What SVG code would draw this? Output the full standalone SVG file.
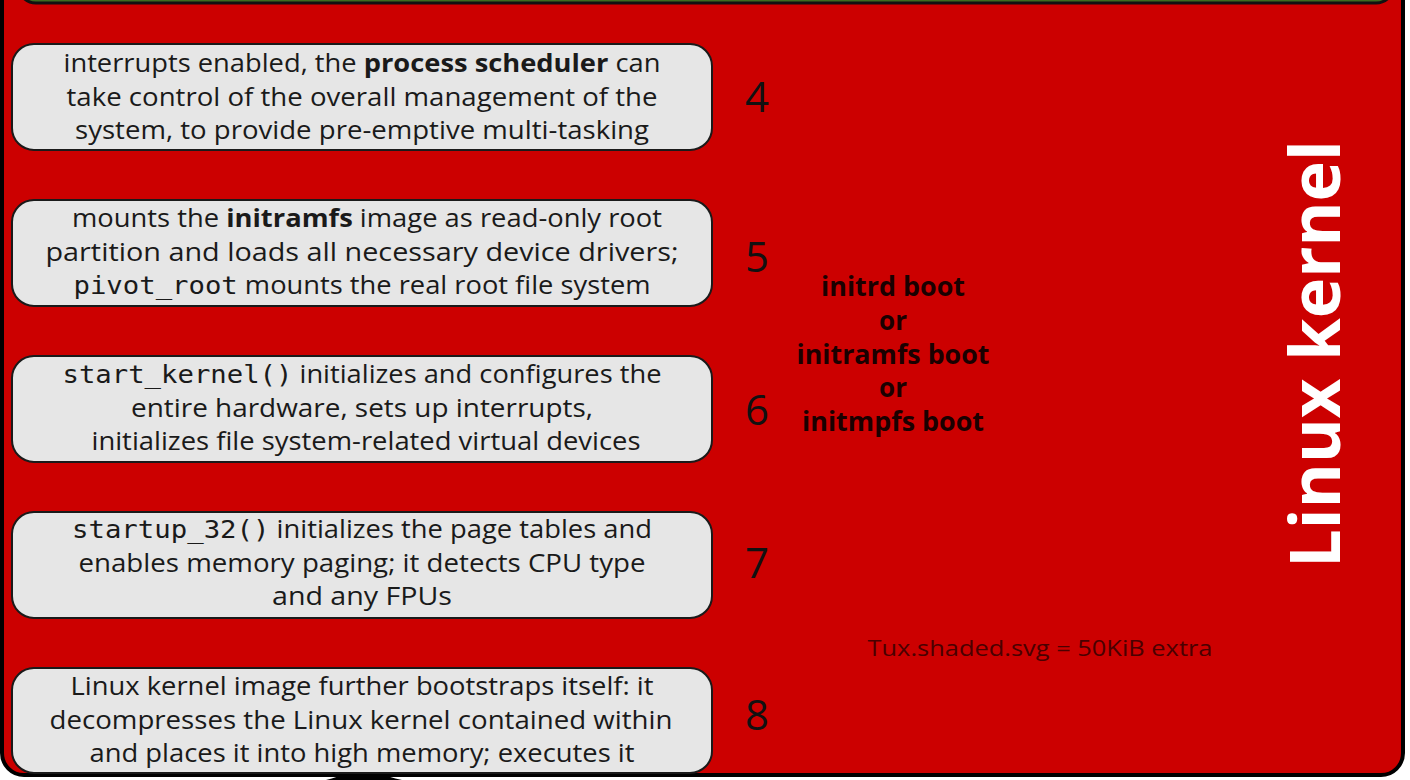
<svg xmlns="http://www.w3.org/2000/svg" width="1410" height="780" viewBox="0 0 1410 780">
<style>
.box{fill:#e6e6e6;stroke:#1a1a1a;stroke-width:2}
.t{font-family:"Open Sans","Noto Sans",sans-serif;font-size:25.5px;fill:#1a1a1a;text-anchor:middle}
.b{font-weight:bold}
.m{font-family:"DejaVu Sans Mono","Liberation Mono",monospace}
.num{font-family:"Open Sans","Noto Sans",sans-serif;font-size:42px;fill:#111;text-anchor:middle}
.boot{font-family:"Open Sans","Noto Sans",sans-serif;font-size:26px;font-weight:bold;fill:#1a0000;text-anchor:middle}
</style>
<rect x="0" y="0" width="1410" height="780" fill="#ffffff"/>
<g id="panel">
<rect x="2" y="-40" width="1401" height="815" rx="22" fill="#cc0000" stroke="#000" stroke-width="4"/>
<rect x="18" y="-100" width="1376" height="103" rx="18" fill="#3d6b1f" stroke="#111" stroke-width="3"/>
</g>
<g id="connectors">
<path d="M326 780 C342 776 353 771 362 768 C371 771 384 776 402 780 Z" fill="#000"/>
</g>
<g id="step4">
<rect class="box" x="12" y="44" width="700" height="106" rx="22"/>
<text class="t" x="362" y="72" textLength="597" lengthAdjust="spacingAndGlyphs">interrupts enabled, the <tspan class="b">process scheduler</tspan> can</text>
<text class="t" x="362" y="106" textLength="591" lengthAdjust="spacingAndGlyphs">take control of the overall management of the</text>
<text class="t" x="362" y="139" textLength="574" lengthAdjust="spacingAndGlyphs">system, to provide pre-emptive multi-tasking</text>
<text class="num" x="757" y="112">4</text>
</g>
<g id="step5">
<rect class="box" x="12" y="200" width="700" height="106" rx="22"/>
<text class="t" x="367" y="227" textLength="590" lengthAdjust="spacingAndGlyphs">mounts the <tspan class="b">initramfs</tspan> image as read-only root</text>
<text class="t" x="362" y="261" textLength="633" lengthAdjust="spacingAndGlyphs">partition and loads all necessary device drivers;</text>
<text class="t" x="362" y="294" textLength="577" lengthAdjust="spacingAndGlyphs"><tspan class="m">pivot_root</tspan> mounts the real root file system</text>
<text class="num" x="757" y="272">5</text>
</g>
<g id="step6">
<rect class="box" x="12" y="356" width="700" height="106" rx="22"/>
<text class="t" x="362" y="383" textLength="599" lengthAdjust="spacingAndGlyphs"><tspan class="m">start_kernel()</tspan> initializes and configures the</text>
<text class="t" x="362" y="417" textLength="462" lengthAdjust="spacingAndGlyphs">entire hardware, sets up interrupts,</text>
<text class="t" x="366" y="450" textLength="549" lengthAdjust="spacingAndGlyphs">initializes file system-related virtual devices</text>
<text class="num" x="757" y="425">6</text>
</g>
<g id="step7">
<rect class="box" x="12" y="512" width="700" height="106" rx="22"/>
<text class="t" x="362" y="538" textLength="580" lengthAdjust="spacingAndGlyphs"><tspan class="m">startup_32()</tspan> initializes the page tables and</text>
<text class="t" x="362" y="572" textLength="567" lengthAdjust="spacingAndGlyphs">enables memory paging; it detects CPU type</text>
<text class="t" x="362" y="605" textLength="180" lengthAdjust="spacingAndGlyphs">and any FPUs</text>
<text class="num" x="757" y="578">7</text>
</g>
<g id="step8">
<rect class="box" x="12" y="668" width="700" height="105" rx="22"/>
<text class="t" x="362" y="695" textLength="583" lengthAdjust="spacingAndGlyphs">Linux kernel image further bootstraps itself: it</text>
<text class="t" x="361" y="729" textLength="623" lengthAdjust="spacingAndGlyphs">decompresses the Linux kernel contained within</text>
<text class="t" x="362" y="762" textLength="545" lengthAdjust="spacingAndGlyphs">and places it into high memory; executes it</text>
<text class="num" x="757" y="730">8</text>
</g>
<g id="boot-types">
<text class="boot" x="893" y="296" textLength="144" lengthAdjust="spacingAndGlyphs">initrd boot</text>
<text class="boot" x="893" y="330">or</text>
<text class="boot" x="893" y="364" textLength="193" lengthAdjust="spacingAndGlyphs">initramfs boot</text>
<text class="boot" x="893" y="397">or</text>
<text class="boot" x="893" y="431" textLength="182" lengthAdjust="spacingAndGlyphs">initmpfs boot</text>
</g>
<g id="tux-note">
<text x="1040" y="656" font-family="'Open Sans','Noto Sans',sans-serif" font-size="22" fill="#4a0000" text-anchor="middle" textLength="345" lengthAdjust="spacingAndGlyphs">Tux.shaded.svg = 50KiB extra</text>
</g>
<g id="title">
<text transform="translate(1340,354) rotate(-90)" x="0" y="0" font-family="'Open Sans','Noto Sans',sans-serif" font-size="70" font-weight="bold" fill="#ffffff" text-anchor="middle" textLength="428" lengthAdjust="spacingAndGlyphs">Linux kernel</text>
</g>
</svg>
